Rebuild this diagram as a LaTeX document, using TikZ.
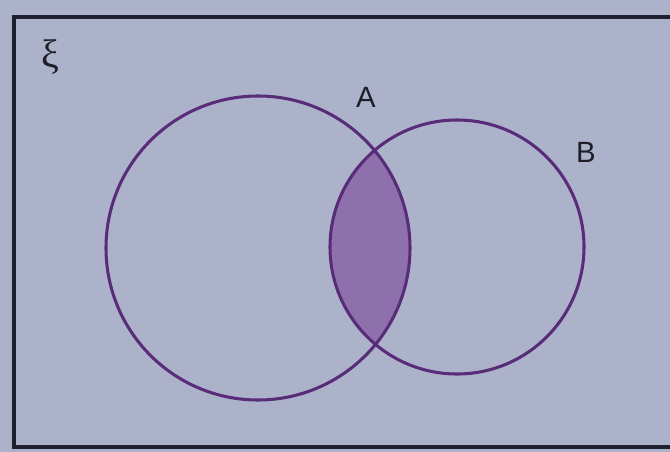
\documentclass[tikz,border=0pt]{standalone}
\usepackage{fontspec}
\setsansfont{Liberation Sans}
\newfontfamily\greekfont{Liberation Serif}
\begin{document}
\begin{tikzpicture}[x=0.03cm,y=-0.03cm,
  frame/.style={draw=framecol,line width=3.2pt},
  setline/.style={draw=setcol,line width=2.6pt},
  lbl/.style={font=\sffamily\fontsize{25}{25}\selectfont,text=labelcol,inner sep=0pt}]
\definecolor{paper}{RGB}{172,178,202}
\definecolor{framecol}{RGB}{30,32,48}
\definecolor{setcol}{RGB}{88,44,120}
\definecolor{fillcol}{RGB}{142,112,172}
\definecolor{labelcol}{RGB}{30,30,40}
\useasboundingbox (0,0) rectangle (670,452);
\fill[paper] (0,0) rectangle (670,452);
\begin{scope}
\clip (0,0) rectangle (670,452);
\draw[frame] (14,17) rectangle (690,447);
\end{scope}
\coordinate (cA) at (258,248);
\coordinate (cB) at (457,247);
\begin{scope}
\clip (cA) circle [radius=152];
\fill[fillcol] (cB) circle [radius=127];
\end{scope}
\draw[setline] (cA) circle [radius=152];
\draw[setline] (cB) circle [radius=127];
\node[lbl] (A) at (366,97) {A};
\node[lbl] (B) at (586,152) {B};
\node[inner sep=0pt,text=labelcol,font=\greekfont\fontsize{34}{34}\selectfont] (xi) at (50,57) {ξ};
\end{tikzpicture}
\end{document}
